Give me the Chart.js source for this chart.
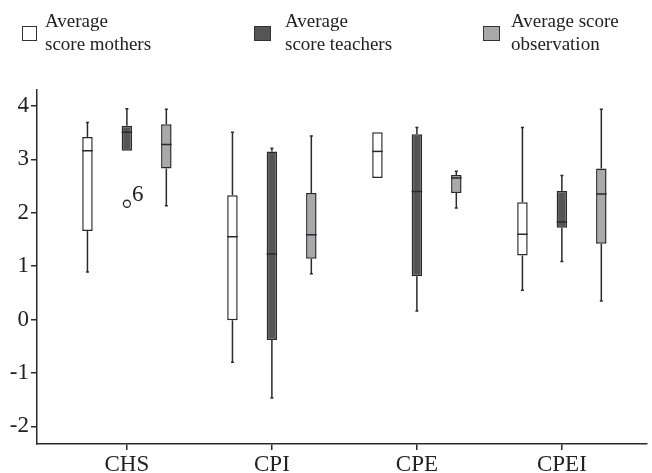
<!DOCTYPE html>
<html>
<head>
<meta charset="utf-8">
<script src="https://cdn.jsdelivr.net/npm/chart.js@4.4.1/dist/chart.umd.min.js"></script>
<style>
    body { margin: 0; background: #fff; }
    #wrap { position: relative; width: 652px; height: 473px; }
    #chart { position: absolute; left: 0; top: 0; }
    .legend-item { position: absolute; top: 0; font-family: "Liberation Serif", serif; font-size: 19px; line-height: 23px; color: #222; }
    .legend-box { position: absolute; height: 13px; border: 1.5px solid #333; }
    .legend-text { position: absolute; top: 9px; white-space: nowrap; }
</style>
</head>
<body>
<div id="wrap">
    <canvas id="chart" width="652" height="473"></canvas>
    <div id="legend"></div>
</div>
<script>
// Categories and tick labels
const categories = ["CHS", "CPI", "CPE", "CPEI"];
const yTicks = [-2, -1, 0, 1, 2, 3, 4];

// Average score mothers
const mothersMin = [0.89, -0.80, 2.65, 0.55];
const mothersQ1 = [1.66, -0.01, 2.65, 1.20];
const mothersMedian = [3.16, 1.55, 3.15, 1.60];
const mothersQ3 = [3.42, 2.33, 3.51, 2.20];
const mothersMax = [3.69, 3.51, 3.51, 3.60];

// Average score teachers
const teachersMin = [3.16, -1.47, 0.16, 1.09];
const teachersQ1 = [3.16, -0.38, 0.81, 1.72];
const teachersMedian = [3.51, 1.23, 2.40, 1.83];
const teachersQ3 = [3.63, 3.15, 3.47, 2.41];
const teachersMax = [3.95, 3.21, 3.60, 2.70];

// Average score observation
const observationMin = [2.13, 0.86, 2.09, 0.35];
const observationQ1 = [2.83, 1.14, 2.37, 1.42];
const observationMedian = [3.28, 1.59, 2.65, 2.35];
const observationQ3 = [3.66, 2.37, 2.71, 2.83];
const observationMax = [3.94, 3.44, 2.78, 3.94];

// Outlier (teachers, CHS)
const outlierCategory = [0];
const outlierValue = [2.17];
const outlierLabel = ["6"];

const series = [
    { label: ["Average", "score mothers"], color: "#ffffff", min: mothersMin, q1: mothersQ1, median: mothersMedian, q3: mothersQ3, max: mothersMax },
    { label: ["Average", "score teachers"], color: "#555555", min: teachersMin, q1: teachersQ1, median: teachersMedian, q3: teachersQ3, max: teachersMax },
    { label: ["Average score", "observation"], color: "#a9a9ab", min: observationMin, q1: observationQ1, median: observationMedian, q3: observationQ3, max: observationMax }
];

const lineColor = "#2a2a2a";
const serif = "'Liberation Serif', 'Times New Roman', serif";

// HTML legend
const legendPos = [{ box: 22, w: 13, text: 45 }, { box: 254, w: 15, text: 285 }, { box: 483, w: 15, text: 511 }];
const legend = document.getElementById("legend");
series.forEach(function (s, i) {
    const item = document.createElement("div");
    item.className = "legend-item";
    const box = document.createElement("div");
    box.className = "legend-box";
    box.style.left = legendPos[i].box + "px";
    box.style.width = legendPos[i].w + "px";
    box.style.top = "26px";
    box.style.background = s.color;
    const text = document.createElement("div");
    text.className = "legend-text";
    text.style.left = legendPos[i].text + "px";
    text.innerHTML = s.label.join("<br>");
    item.appendChild(box);
    item.appendChild(text);
    legend.appendChild(item);
});

// Whiskers, caps, medians and outlier label
const boxPlotPlugin = {
    id: "boxPlot",
    afterDatasetsDraw(chart) {
        const ctx = chart.ctx;
        const y = chart.scales.y;
        ctx.save();
        ctx.strokeStyle = lineColor;
        ctx.lineWidth = 1.5;
        series.forEach(function (s, di) {
            const meta = chart.getDatasetMeta(di);
            meta.data.forEach(function (el, i) {
                const x = el.x;
                const half = el.width / 2;
                const pMin = y.getPixelForValue(s.min[i]);
                const pQ1 = y.getPixelForValue(s.q1[i]);
                const pMed = y.getPixelForValue(s.median[i]);
                const pQ3 = y.getPixelForValue(s.q3[i]);
                const pMax = y.getPixelForValue(s.max[i]);
                ctx.beginPath();
                if (s.max[i] > s.q3[i]) {
                    ctx.moveTo(x, pQ3);
                    ctx.lineTo(x, pMax);
                    ctx.moveTo(x - 1.5, pMax);
                    ctx.lineTo(x + 1.5, pMax);
                }
                if (s.min[i] < s.q1[i]) {
                    ctx.moveTo(x, pQ1);
                    ctx.lineTo(x, pMin);
                    ctx.moveTo(x - 1.5, pMin);
                    ctx.lineTo(x + 1.5, pMin);
                }
                ctx.moveTo(x - half, pMed);
                ctx.lineTo(x + half, pMed);
                ctx.stroke();
            });
        });
        // outlier label
        const om = chart.getDatasetMeta(3);
        ctx.fillStyle = "#222";
        ctx.font = "23px " + serif;
        ctx.textAlign = "left";
        ctx.textBaseline = "alphabetic";
        om.data.forEach(function (pt, i) {
            ctx.fillText(outlierLabel[i], pt.x + 5, pt.y - 3);
        });
        ctx.restore();
    }
};

const datasets = series.map(function (s) {
    return {
        type: "bar",
        label: s.label.join(" "),
        data: categories.map(function (c, i) { return { x: i, y: [s.q1[i], s.q3[i]] }; }),
        backgroundColor: s.color,
        borderColor: lineColor,
        borderWidth: 1.5,
        borderSkipped: false,
        categoryPercentage: 0.816,
        barPercentage: 0.266
    };
});

datasets.push({
    type: "scatter",
    label: "Outlier",
    data: outlierCategory.map(function (c, i) { return { x: c, y: outlierValue[i] }; }),
    pointStyle: "circle",
    pointRadius: 3.5,
    backgroundColor: "#ffffff",
    borderColor: lineColor,
    borderWidth: 1.3
});

new Chart(document.getElementById("chart"), {
    type: "bar",
    data: { datasets: datasets },
    plugins: [boxPlotPlugin],
    options: {
        responsive: false,
        animation: false,
        layout: { padding: { left: 0, right: 4, top: 90, bottom: 0 } },
        plugins: {
            legend: { display: false },
            tooltip: { enabled: false }
        },
        scales: {
            x: {
                type: "linear",
                min: -0.62,
                max: 3.585,
                offset: false,
                afterBuildTicks: function (scale) {
                    scale.ticks = categories.map(function (c, i) { return { value: i }; });
                },
                afterFit: function (scale) { scale.height = 29; },
                ticks: {
                    callback: function (v) { return categories[v]; },
                    font: { family: serif, size: 23 },
                    color: "#222",
                    padding: 1,
                    maxRotation: 0,
                    autoSkip: false
                },
                grid: { display: true, offset: false, drawOnChartArea: false, drawTicks: true, tickLength: 6, color: lineColor, lineWidth: 1.5 },
                border: { display: true, color: lineColor, width: 1.5 }
            },
            y: {
                type: "linear",
                min: -2.33,
                max: 4.3,
                stacked: false,
                afterBuildTicks: function (scale) {
                    scale.ticks = yTicks.map(function (v) { return { value: v }; });
                },
                afterFit: function (scale) { scale.width = 37; },
                ticks: {
                    font: { family: serif, size: 23 },
                    color: "#222",
                    padding: 2
                },
                grid: { display: true, drawOnChartArea: false, drawTicks: true, tickLength: 6, color: lineColor, lineWidth: 1.5 },
                border: { display: true, color: lineColor, width: 1.5 }
            }
        }
    }
});
</script>
</body>
</html>
